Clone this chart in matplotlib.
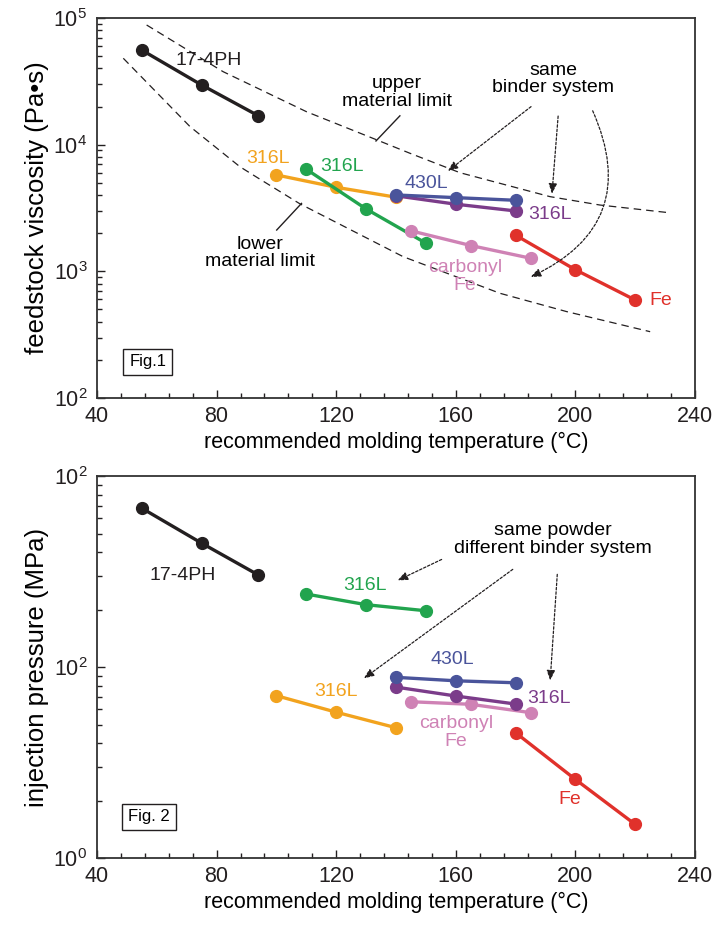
import matplotlib
matplotlib.use("Agg")
import matplotlib.pyplot as plt
from matplotlib.ticker import MultipleLocator, FixedLocator, FixedFormatter, LogLocator, NullFormatter

plt.rcParams['font.family'] = ['Liberation Sans', 'DejaVu Sans']
plt.rcParams['mathtext.default'] = 'regular'

# colours
c_black = '#231f20'
c_orange = '#f2a31e'
c_green = '#22a44e'
c_blue = '#4a549b'
c_purple = '#7b3c8a'
c_pink = '#cf82b5'
c_red = '#e0312b'

# ---- Fig.1 data: feedstock viscosity (Pa s) ----
t_174ph_1 = [55, 75, 94]
v_174ph = [55800, 29600, 16900]
t_316l_or_1 = [100, 120, 140]
v_316l_or = [5770, 4610, 3850]
t_316l_gr_1 = [110, 130, 150]
v_316l_gr = [6400, 3110, 1670]
t_430l_1 = [140, 160, 180]
v_430l = [4010, 3820, 3640]
t_316l_pu_1 = [140, 160, 180]
v_316l_pu = [3950, 3390, 3000]
t_cfe_1 = [145, 165, 185]
v_cfe = [2090, 1600, 1270]
t_fe_1 = [180, 200, 220]
v_fe = [1930, 1030, 594]

# material limit curves
t_upper = [56.6, 82.2, 110.1, 132.4, 144.7, 161.4, 191.5, 208.2, 231.6]
v_upper = [88100, 37700, 18200, 11200, 8550, 6010, 3890, 3340, 2900]
t_lower = [48.8, 71.1, 87.8, 94.0, 107.9, 142.4, 174.8, 197.1, 225.0]
v_lower = [48100, 13900, 6700, 5430, 3410, 1306, 671, 481, 334]

# ---- Fig.2 data: injection pressure (MPa) ----
t_174ph_2 = [55, 75, 94]
p_174ph = [67.8, 44.5, 30.3]
t_316l_gr_2 = [110, 130, 150]
p_316l_gr = [24.1, 21.2, 19.7]
t_316l_or_2 = [100, 120, 140]
p_316l_or = [7.08, 5.80, 4.81]
t_430l_2 = [140, 160, 180]
p_430l = [8.83, 8.47, 8.27]
t_316l_pu_2 = [140, 160, 180]
p_316l_pu = [7.85, 7.05, 6.40]
t_cfe_2 = [145, 165, 185]
p_cfe = [6.58, 6.38, 5.77]
t_fe_2 = [180, 200, 220]
p_fe = [4.53, 2.58, 1.50]

x_ticks = [40, 80, 120, 160, 200, 240]

fig = plt.figure(figsize=(7.26, 9.25), dpi=100)
ax1 = fig.add_axes([0.1336, 0.5697, 0.8237, 0.4108])
ax2 = fig.add_axes([0.1336, 0.0724, 0.8237, 0.4130])

lw = 2.4
ms = 8.5


def series(ax, t, v, c):
    ax.plot(t, v, '-o', color=c, lw=lw, ms=ms, mec=c, mfc=c, zorder=3)


def style(ax, ylab, ymin, ymax, yticks, ylabels):
    ax.set_yscale('log')
    ax.set_xlim(40, 240)
    ax.set_ylim(ymin, ymax)
    ax.xaxis.set_major_locator(FixedLocator(x_ticks))
    ax.xaxis.set_minor_locator(MultipleLocator(8))
    ax.yaxis.set_major_locator(FixedLocator(yticks))
    ax.yaxis.set_major_formatter(FixedFormatter(ylabels))
    ax.yaxis.set_minor_locator(LogLocator(base=10, subs=range(2, 10)))
    ax.yaxis.set_minor_formatter(NullFormatter())
    ax.tick_params(which='both', direction='in', top=False, right=False,
                   labelsize=15.5, colors='#231f20')
    ax.tick_params(axis='x', which='major', pad=6)
    ax.tick_params(axis='y', which='major', pad=7)
    ax.tick_params(which='major', length=6, width=1.0)
    ax.tick_params(which='minor', length=3.5, width=1.0)
    for s in ax.spines.values():
        s.set_linewidth(1.3)
        s.set_color('#333333')
    ax.set_xlabel('recommended molding temperature (°C)', fontsize=15.5, labelpad=3)
    ax.set_ylabel(ylab, fontsize=18.5, labelpad=3)


# ---------------- Fig.1 ----------------
style(ax1, 'feedstock viscosity (Pa•s)', 100, 1e5,
      [1e2, 1e3, 1e4, 1e5], ['$10^2$', '$10^3$', '$10^4$', '$10^5$'])

ax1.plot(t_upper, v_upper, '--', color=c_black, lw=0.9, dashes=(6, 4))
ax1.plot(t_lower, v_lower, '--', color=c_black, lw=0.9, dashes=(6, 4))

series(ax1, t_174ph_1, v_174ph, c_black)
series(ax1, t_316l_or_1, v_316l_or, c_orange)
series(ax1, t_316l_gr_1, v_316l_gr, c_green)
series(ax1, t_316l_pu_1, v_316l_pu, c_purple)
series(ax1, t_430l_1, v_430l, c_blue)
series(ax1, t_cfe_1, v_cfe, c_pink)
series(ax1, t_fe_1, v_fe, c_red)

fs = 14
ax1.text(77.5, 46200, '17-4PH', fontsize=fs, color=c_black, ha='center', va='center')
ax1.text(97.3, 7820, '316L', fontsize=fs, color=c_orange, ha='center', va='center')
ax1.text(121.8, 6700, '316L', fontsize=fs, color=c_green, ha='center', va='center')
ax1.text(150.3, 4960, '430L', fontsize=fs, color=c_blue, ha='center', va='center')
ax1.text(191.5, 2790, '316L', fontsize=fs, color=c_purple, ha='center', va='center')
ax1.text(163.1, 908, 'carbonyl\nFe', fontsize=fs, color=c_pink, ha='center', va='center',
         linespacing=1.05)
ax1.text(228.5, 594, 'Fe', fontsize=fs, color=c_red, ha='center', va='center')

ax1.text(140.2, 25800, 'upper\nmaterial limit', fontsize=fs, ha='center', va='center',
         linespacing=1.05)
ax1.plot([141.3, 133.3], [16900, 10700], color=c_black, lw=1.0)
ax1.text(94.5, 1400, 'lower\nmaterial limit', fontsize=fs, ha='center', va='center',
         linespacing=1.05)
ax1.plot([100.1, 108.4], [2120, 3440], color=c_black, lw=1.0)

ax1.text(192.5, 33000, 'same\nbinder system', fontsize=fs, ha='center', va='center',
         linespacing=1.05)
arrow_kw = dict(arrowstyle='-|>,head_length=0.6,head_width=0.25', color=c_black,
                lw=0.9, linestyle=(0, (2, 1.5)))
ax1.annotate('', xy=(156.6, 6000), xytext=(185.9, 20600), arrowprops=arrow_kw)
ax1.annotate('', xy=(192.1, 3900), xytext=(194.3, 17700), arrowprops=arrow_kw)
ax1.annotate('', xy=(184.2, 884), xytext=(205.4, 19400),
             arrowprops=dict(arrow_kw, connectionstyle='arc3,rad=-0.5'))

ax1.text(57, 193, 'Fig.1', fontsize=12, ha='center', va='center',
         bbox=dict(boxstyle='square,pad=0.35', fc='white', ec=c_black, lw=1.0))

# ---------------- Fig.2 ----------------
style(ax2, 'injection pressure (MPa)', 1, 100,
      [1, 10, 100], ['$10^0$', '$10^2$', '$10^2$'])

series(ax2, t_174ph_2, p_174ph, c_black)
series(ax2, t_316l_gr_2, p_316l_gr, c_green)
series(ax2, t_316l_or_2, p_316l_or, c_orange)
series(ax2, t_cfe_2, p_cfe, c_pink)
series(ax2, t_316l_pu_2, p_316l_pu, c_purple)
series(ax2, t_430l_2, p_430l, c_blue)
series(ax2, t_fe_2, p_fe, c_red)

ax2.text(68.8, 30.3, '17-4PH', fontsize=fs, color=c_black, ha='center', va='center')
ax2.text(129.6, 26.8, '316L', fontsize=fs, color=c_green, ha='center', va='center')
ax2.text(158.8, 10.97, '430L', fontsize=fs, color=c_blue, ha='center', va='center')
ax2.text(119.8, 7.48, '316L', fontsize=fs, color=c_orange, ha='center', va='center')
ax2.text(191.3, 6.86, '316L', fontsize=fs, color=c_purple, ha='center', va='center')
ax2.text(160, 4.54, 'carbonyl\nFe', fontsize=fs, color=c_pink, ha='center', va='center',
         linespacing=1.05)
ax2.text(198.2, 2.03, 'Fe', fontsize=fs, color=c_red, ha='center', va='center')

ax2.text(192.4, 46.5, 'same powder\ndifferent binder system', fontsize=fs,
         ha='center', va='center', linespacing=1.05)
ax2.annotate('', xy=(139.7, 28.0), xytext=(156.1, 37.1), arrowprops=arrow_kw)
ax2.annotate('', xy=(128.5, 8.55), xytext=(179.8, 33.1), arrowprops=arrow_kw)
ax2.annotate('', xy=(191.5, 8.22), xytext=(194.0, 31.6), arrowprops=arrow_kw)

ax2.text(57.4, 1.64, 'Fig. 2', fontsize=12, ha='center', va='center',
         bbox=dict(boxstyle='square,pad=0.35', fc='white', ec=c_black, lw=1.0))

fig.savefig('out.png', dpi=100)
